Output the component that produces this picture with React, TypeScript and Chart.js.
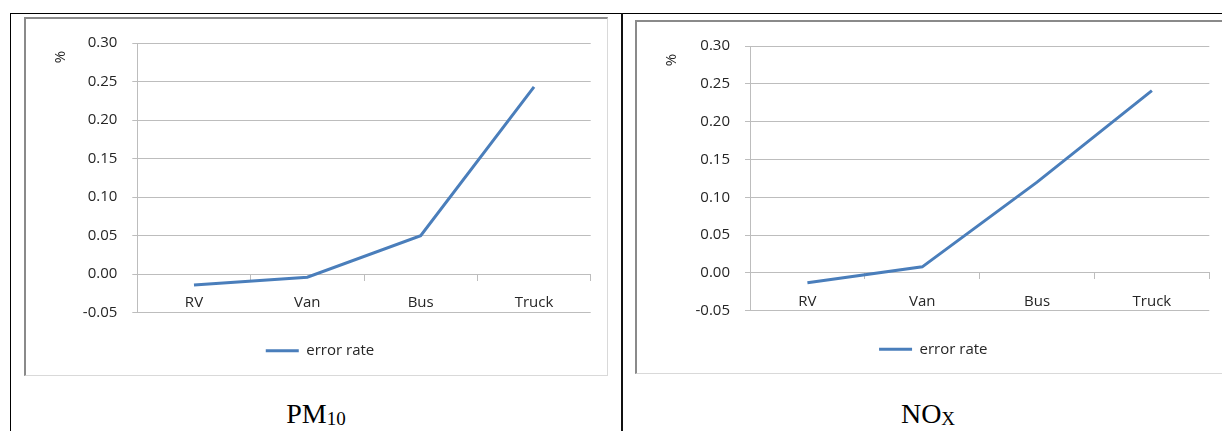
import React, { useEffect, useRef } from 'react';
import { Chart, registerables } from 'chart.js';

Chart.register(...registerables);

// ---- data ----
const categories = ['RV', 'Van', 'Bus', 'Truck'];
const pm10Values = [-0.014, -0.004, 0.05, 0.243];
const noxValues = [-0.013, 0.008, 0.12, 0.241];
const seriesLabel = 'error rate';
const axisTitle = '%';
const yMin = -0.05;
const yMax = 0.3;
const yStep = 0.05;

const FONT = '"Open Sans", "Noto Sans", sans-serif';
const TEXT_COLOR = '#262626';
const GRID_COLOR = '#bdbdbd';
const LINE_COLOR = '#4a7ebb';

type Layout = { L: number; R: number; T: number; B: number; W: number; P: number; tp: number };

function ChartPanel(props: {
  left: number; top: number; width: number; height: number;
  values: number[]; layout: Layout;
}) {
  const ref = useRef<HTMLCanvasElement | null>(null);
  useEffect(() => {
    if (!ref.current) return;
    const { L, R, T, B, W, P, tp } = props.layout;
    const font = { family: FONT, size: 15 };
    const chart = new Chart(ref.current, {
      type: 'line',
      data: {
        labels: categories,
        datasets: [{
          label: seriesLabel,
          data: props.values,
          borderColor: LINE_COLOR,
          backgroundColor: LINE_COLOR,
          borderWidth: 3,
          pointRadius: 0,
          pointHoverRadius: 0,
          tension: 0,
          fill: false,
        }],
      },
      options: {
        responsive: false,
        animation: false,
        layout: { padding: { left: L, right: R, top: T, bottom: B } },
        plugins: {
          legend: {
            position: 'bottom',
            labels: {
              usePointStyle: true,
              pointStyle: 'line',
              pointStyleWidth: 33,
              padding: P,
              font,
              color: TEXT_COLOR,
            },
          },
          tooltip: { enabled: false },
        },
        scales: {
          x: {
            type: 'category',
            position: { y: 0 },
            offset: true,
            grid: { offset: true, drawOnChartArea: false, drawTicks: true, tickLength: 6, color: GRID_COLOR },
            border: { color: GRID_COLOR, width: 1 },
            ticks: { padding: 14, font, color: TEXT_COLOR, maxRotation: 0 },
          },
          y: {
            min: yMin,
            max: yMax,
            ticks: {
              stepSize: yStep,
              padding: 15,
              font,
              color: TEXT_COLOR,
              callback: (v: any) => {
                const n = Number(v);
                return (Math.abs(n) < 1e-9 ? 0 : n).toFixed(2);
              },
            },
            grid: { color: GRID_COLOR, tickLength: 5 },
            border: { color: GRID_COLOR },
            title: {
              display: true,
              text: axisTitle + '  ',
              align: 'end',
              padding: { top: tp, bottom: 0 },
              font,
              color: TEXT_COLOR,
            },
            afterFit: (s: any) => { s.width = W; },
          },
        },
      } as any,
    });
    return () => chart.destroy();
  }, []);
  return (
    <canvas
      ref={ref}
      width={props.width}
      height={props.height}
      style={{ position: 'absolute', left: props.left, top: props.top, width: props.width, height: props.height }}
    />
  );
}

const serif = '"Liberation Serif", "Times New Roman", serif';

function Caption(props: { center: number; main: string; sub: string }) {
  return (
    <div style={{
      position: 'absolute', left: props.center - 150, width: 300, top: 400,
      textAlign: 'center', fontFamily: serif, fontSize: 28, lineHeight: '28px',
      color: '#000', whiteSpace: 'nowrap',
    }}>
      {props.main}
      <span style={{ fontSize: 19, position: 'relative', top: 2.4 }}>{props.sub}</span>
    </div>
  );
}

export default function App() {
  return (
    <div style={{ position: 'absolute', left: 0, top: 0, width: 1222, height: 431, overflow: 'hidden', background: '#fff' }}>
      {/* table lines */}
      <div style={{ position: 'absolute', left: 10, top: 13, width: 1300, height: 1, background: '#000' }} />
      <div style={{ position: 'absolute', left: 10, top: 13, width: 1, height: 430, background: '#000' }} />
      <div style={{ position: 'absolute', left: 621, top: 13, width: 2, height: 430, background: '#111' }} />

      {/* chart frames */}
      <div style={{
        position: 'absolute', left: 24, top: 17, width: 584, height: 359, boxSizing: 'border-box',
        borderTop: '2px solid #8a8a8a', borderLeft: '2px solid #8a8a8a',
        borderRight: '1px solid #d9d9d9', borderBottom: '1px solid #d9d9d9', background: '#fff',
      }} />
      <div style={{
        position: 'absolute', left: 635, top: 20, width: 640, height: 354, boxSizing: 'border-box',
        borderTop: '2px solid #8a8a8a', borderLeft: '2px solid #8a8a8a',
        borderRight: '1px solid #d9d9d9', borderBottom: '1px solid #d9d9d9', background: '#fff',
      }} />

      <ChartPanel left={27} top={19} width={580} height={356} values={pm10Values}
        layout={{ L: 22.3, R: 16.3, T: 22, B: 6.8, W: 88, P: 30.5, tp: 2.7 }} />
      <ChartPanel left={638} top={22} width={584} height={351} values={noxValues}
        layout={{ L: 19.3, R: 12.7, T: 21.3, B: 6.2, W: 92.7, P: 31.1, tp: 5.4 }} />

      <Caption center={316} main="PM" sub="10" />
      <Caption center={928} main="NO" sub="X" />
    </div>
  );
}
